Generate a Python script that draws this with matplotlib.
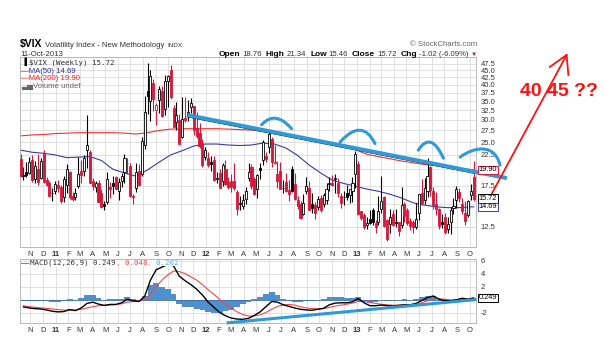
import matplotlib
matplotlib.use("Agg")
import matplotlib.pyplot as plt
import numpy as np
import pandas as pd
from matplotlib.patches import PathPatch
from matplotlib.path import Path
from matplotlib.ticker import NullLocator
from matplotlib.transforms import IdentityTransform

plt.rcParams["font.family"] = ["Liberation Sans", "DejaVu Sans"]

W, H = 606, 351

# weekly candles, Friday 2010-10-08 .. 2013-10-11
START = "2010-10-08"
PREV_CLOSE = 22.50
OPEN = [21.8, 18.9, 19.5, 19.4, 21.5, 18.5, 20.0, 18.6, 22.8, 18.3,
        17.8, 16.5, 16.8, 17.6, 17.3, 15.9, 17.6, 19.5, 16.1, 15.9,
        17.4, 19.8, 19.8, 23.5, 23.0, 18.2, 17.3, 17.9, 16.5, 15.0,
        15.3, 17.3, 17.9, 18.7, 16.8, 18.1, 19.6, 21.0, 20.6, 16.0,
        17.1, 19.7, 19.3, 24.4, 38.0, 35.0, 40.6, 32.5, 35.3, 38.1,
        32.8, 41.1, 45.2, 33.0, 29.5, 30.0, 26.0, 30.5, 31.2, 33.2,
        33.5, 28.0, 27.0, 24.9, 22.1, 22.0, 21.2, 21.5, 18.5, 19.4,
        18.2, 20.0, 18.0, 18.2, 18.1, 16.6, 15.2, 14.8, 15.7, 18.6,
        20.4, 18.4, 17.0, 20.2, 21.5, 22.3, 24.0, 25.6, 21.1, 19.3,
        19.7, 17.2, 18.0, 16.9, 20.0, 17.7, 15.6, 15.0, 13.9, 16.8,
        17.2, 15.1, 14.9, 14.7, 15.8, 15.1, 15.6, 17.7, 17.9, 18.4,
        17.8, 16.1, 15.9, 16.5, 16.2, 16.8, 19.2, 20.9, 14.2, 13.7,
        12.7, 13.3, 14.3, 12.9, 13.0, 14.4, 15.9, 13.2, 12.8, 13.9,
        13.0, 13.0, 12.7, 15.0, 14.3, 13.1, 13.0, 12.5, 14.0, 16.5,
        15.6, 16.8, 20.3, 16.7, 15.0, 14.4, 13.0, 13.5, 12.3, 13.0,
        14.6, 15.5, 16.6, 15.0, 14.0, 13.7, 16.2, 18.76]
HIGH = [22.6, 20.4, 21.3, 22.2, 22.5, 21.4, 22.6, 22.0, 23.5, 18.7,
        18.2, 17.1, 18.2, 18.3, 17.6, 19.0, 20.9, 19.8, 16.6, 17.2,
        22.1, 21.5, 22.4, 31.3, 23.4, 18.6, 18.2, 18.3, 17.0, 15.4,
        19.5, 18.0, 18.9, 19.0, 18.6, 19.4, 22.7, 21.9, 21.0, 16.3,
        21.0, 20.9, 26.0, 36.6, 48.0, 45.0, 41.9, 34.4, 39.6, 39.6,
        43.5, 43.2, 46.9, 33.8, 34.8, 31.4, 36.2, 36.2, 35.3, 36.0,
        33.6, 31.9, 29.2, 25.6, 24.0, 23.1, 22.3, 22.3, 19.6, 20.0,
        21.0, 21.5, 18.7, 19.3, 21.1, 16.9, 16.0, 16.3, 17.3, 21.1,
        20.8, 18.7, 19.3, 21.0, 25.4, 23.0, 27.7, 26.1, 24.5, 21.4,
        21.3, 18.3, 19.4, 18.3, 20.5, 19.4, 16.0, 15.4, 16.3, 18.7,
        18.1, 16.5, 15.3, 16.1, 16.2, 16.5, 17.9, 18.7, 19.1, 19.2,
        18.6, 16.4, 16.7, 17.6, 17.0, 18.8, 23.2, 21.4, 14.2, 14.0,
        13.5, 14.3, 14.6, 13.2, 16.1, 19.0, 16.1, 13.3, 14.4, 14.3,
        14.4, 13.0, 17.3, 15.3, 14.5, 13.4, 13.2, 15.2, 16.3, 18.5,
        18.6, 21.9, 20.5, 17.3, 16.6, 14.5, 13.9, 14.0, 13.5, 14.7,
        15.8, 17.4, 17.2, 15.8, 15.4, 15.6, 17.7, 21.34]
LOW = [18.8, 18.3, 18.8, 19.3, 18.0, 17.9, 17.6, 18.4, 17.9, 17.4,
       15.9, 15.4, 16.3, 16.6, 15.2, 15.3, 16.4, 15.7, 15.4, 15.5,
       17.2, 17.9, 19.0, 20.2, 17.8, 16.9, 16.6, 15.3, 14.6, 14.3,
       15.0, 15.8, 16.3, 17.0, 15.5, 17.3, 17.9, 19.2, 15.9, 15.0,
       16.6, 17.4, 19.0, 23.7, 31.5, 29.8, 32.2, 28.7, 31.8, 30.8,
       31.2, 33.3, 35.7, 28.2, 27.5, 24.5, 25.9, 29.5, 29.7, 31.8,
       26.5, 25.8, 23.8, 20.3, 21.5, 20.4, 19.8, 18.2, 17.8, 17.1,
       17.5, 17.6, 17.0, 16.6, 16.9, 13.7, 14.3, 14.4, 15.0, 18.2,
       17.0, 16.2, 15.8, 18.5, 20.7, 21.2, 22.9, 20.4, 20.8, 17.2,
       17.0, 16.4, 16.6, 15.4, 16.6, 15.5, 14.4, 13.3, 13.8, 16.3,
       14.3, 14.0, 13.3, 14.3, 14.1, 14.7, 15.0, 16.8, 17.4, 16.5,
       15.9, 14.5, 14.9, 15.5, 15.2, 15.3, 17.2, 13.7, 13.2, 12.3,
       12.3, 12.8, 12.7, 11.9, 12.7, 14.0, 12.5, 11.1, 11.9, 12.6,
       12.5, 11.6, 12.4, 13.0, 12.7, 12.2, 11.9, 12.3, 13.2, 14.9,
       15.1, 15.9, 16.1, 14.4, 13.8, 12.3, 12.4, 11.8, 11.9, 11.8,
       13.9, 14.6, 15.3, 13.9, 12.7, 13.5, 15.5, 15.46]
CLOSE = [18.96, 19.03, 19.08, 21.20, 18.26, 20.61, 18.04, 21.36, 18.01, 17.61,
         16.11, 16.47, 17.75, 17.14, 15.46, 18.47, 20.04, 15.93, 15.69, 16.43,
         19.22, 19.06, 21.88, 24.44, 17.91, 17.40, 17.87, 15.32, 14.69, 14.75,
         18.40, 17.07, 17.43, 17.07, 17.95, 18.86, 21.85, 21.10, 16.00, 15.95,
         19.53, 17.52, 25.25, 32.00, 36.36, 43.05, 35.59, 33.92, 38.52, 30.98,
         41.25, 42.96, 36.20, 28.24, 31.32, 24.53, 30.16, 30.04, 32.00, 34.47,
         27.52, 26.38, 24.29, 20.73, 23.40, 20.63, 20.91, 18.28, 18.53, 17.10,
         20.79, 17.78, 17.31, 17.29, 17.11, 14.47, 15.00, 15.50, 16.70, 19.55,
         17.44, 16.32, 19.16, 19.89, 25.10, 21.76, 26.66, 21.23, 21.11, 18.11,
         17.08, 17.10, 16.74, 16.27, 16.70, 15.64, 14.74, 13.45, 15.18, 17.47,
         14.38, 14.51, 13.98, 15.73, 14.33, 16.14, 17.06, 17.81, 17.59, 18.61,
         16.41, 15.14, 15.87, 15.90, 17.00, 17.84, 22.72, 13.83, 13.36, 12.46,
         12.89, 12.90, 13.02, 12.46, 14.17, 15.36, 12.59, 11.30, 13.57, 12.70,
         12.85, 12.06, 14.97, 13.61, 12.85, 12.59, 12.45, 13.32, 16.30, 15.14,
         17.15, 18.90, 16.86, 14.89, 14.42, 12.54, 12.72, 11.98, 12.81, 14.37,
         14.76, 17.01, 15.85, 14.16, 13.12, 15.46, 16.74, 15.72]

# moving averages read every 4 weeks
MA_WEEKS = list(range(0, 157, 4)) + [157]
MA50 = [23.4, 23.0, 22.8, 22.5, 22.0, 22.1, 22.2, 21.5, 20.0, 19.4,
        18.9, 19.9, 21.2, 22.5, 23.3, 24.2, 24.6, 24.6, 24.4, 24.3,
        24.4, 24.8, 24.6, 23.8, 22.4, 20.7, 19.4, 18.3, 17.8, 17.4,
        17.0, 16.7, 16.3, 15.8, 15.2, 14.9, 14.7, 14.6, 14.6, 14.7, 14.69]
MA200 = [26.3, 26.5, 26.6, 26.8, 26.9, 27.0, 27.0, 27.0, 27.0, 26.9,
         26.7, 27.0, 27.5, 27.8, 27.9, 27.9, 27.9, 27.9, 27.8, 27.7,
         27.6, 27.3, 27.0, 26.6, 26.0, 25.6, 25.2, 24.8, 24.1, 23.5,
         22.6, 22.2, 21.8, 21.4, 21.1, 20.8, 20.6, 20.3, 20.1, 19.95, 19.90]

# MACD(12,26,9) read every 2 weeks
MACD_WEEKS = list(range(1, 156, 2)) + [157]
MACD = [-1.13, -1.3, -1.4, -1.45, -1.6, -1.8, -1.9, -1.85, -1.55, -1.7,
        -1.3, -0.6, -0.4, -0.7, -0.9, -0.75, -0.75, -0.5, 0.05, -0.2,
        -0.3, 0.5, 3.0, 4.6, 5.0, 5.4, 5.2, 3.6, 2.9, 2.3,
        1.6, 0.7, -0.4, -1.2, -2.0, -2.5, -2.85, -3.0, -3.05, -2.9,
        -2.45, -1.9, -1.1, -0.3, -0.4, -0.8, -1.05, -1.3, -1.5, -1.6,
        -1.65, -1.5, -1.35, -0.8, -0.55, -0.5, -0.5, -0.35, 0.15, -0.5,
        -0.95, -0.95, -0.85, -0.95, -1.0, -0.9, -0.8, -0.8, -0.6, -0.15,
        0.3, 0.55, 0.05, -0.15, -0.2, -0.05, 0.2, 0.05, 0.249]
SIGNAL = [-0.97, -1.1, -1.2, -1.28, -1.35, -1.45, -1.55, -1.62, -1.64, -1.6,
          -1.5, -1.3, -1.1, -0.95, -0.9, -0.85, -0.78, -0.65, -0.4, -0.3,
          -0.2, -0.05, 0.8, 2.0, 3.0, 3.8, 4.4, 4.3, 4.0, 3.5,
          3.0, 2.3, 1.5, 0.8, 0.0, -0.7, -1.3, -1.9, -2.3, -2.55,
          -2.5, -2.35, -2.0, -1.5, -1.05, -0.85, -0.75, -0.85, -1.1, -1.3,
          -1.38, -1.42, -1.4, -1.2, -1.0, -0.87, -0.72, -0.55, -0.3, -0.3,
          -0.45, -0.6, -0.72, -0.8, -0.87, -0.87, -0.82, -0.78, -0.72, -0.5,
          -0.2, 0.05, 0.1, 0.05, -0.05, -0.1, 0.0, 0.03, 0.048]
HIST = [-0.2, -0.2, -0.2, -0.2, -0.25, -0.35, -0.35, -0.25, 0.1, -0.1,
        0.2, 0.7, 0.7, 0.25, 0.0, 0.1, 0.05, 0.15, 0.45, 0.1,
        -0.1, 0.55, 2.2, 2.6, 2.0, 1.6, 0.8, -0.7, -1.1, -1.2,
        -1.4, -1.6, -1.9, -2.0, -2.0, -1.8, -1.55, -1.1, -0.75, -0.35,
        0.05, 0.45, 0.9, 1.2, 0.65, 0.05, -0.3, -0.45, -0.4, -0.3,
        -0.27, -0.08, 0.05, 0.4, 0.45, 0.37, 0.22, 0.2, 0.45, -0.2,
        -0.5, -0.35, -0.13, -0.15, -0.13, -0.03, 0.02, -0.02, 0.12, 0.35,
        0.5, 0.5, -0.05, -0.2, -0.15, 0.05, 0.2, 0.02, 0.202]

PRICE_TICKS = [12.5, 15.0, 17.5, 20.0, 22.5, 25.0, 27.5, 30.0, 32.5, 35.0,
               37.5, 40.0, 42.5, 45.0, 47.5]
HIDDEN_PRICE_TICKS = [15.0, 20.0]
MACD_TICKS = [-2, 0, 2, 4, 6]

# hand-drawn markup, in (week, price) / (week, macd) units
TREND_WEEKS = [57.8, 168.5]
TREND_PRICES = [31.2, 18.6]
TREND_BLACK_WEEKS = [57.8, 157.0]
TREND_BLACK_PRICES = [30.8, 19.4]
ARCS = [
    ([83.5, 88.2, 93.9], [28.8, 32.6, 27.9]),
    ([110.7, 118.3, 122.8], [25.0, 30.6, 24.7]),
    ([137.8, 142.2, 146.5], [23.4, 27.5, 21.9]),
    ([152.3, 157.5, 164.4, 166.1], [22.1, 24.2, 24.6, 20.7]),
]
ARROW_WEEKS = [161.5, 189.2]
ARROW_PRICES = [15.14, 51.1]
ARROW_HEAD_WEEKS = [183.4, 189.2, 189.8]
ARROW_HEAD_PRICES = [46.3, 51.1, 43.3]
GUESS_TEXT = "40 45 ??"
GUESS_AT = (186.6, 38.0)
MACD_TREND_WEEKS = [71.4, 158.0]
MACD_TREND_VALUES = [-3.6, 0.0]

RED = "#d5173c"
MARK_BLUE = "#2f9ad6"
GRID = "#dcdcdc"
TXT = "#333333"
FS = 5.5

fig = plt.figure(figsize=(W / 100, H / 100), dpi=100)
ax = fig.add_axes([20 / W, 1 - 246.7 / H, 456 / W, 189.4 / H])
mx = fig.add_axes([20 / W, 1 - 323.3 / H, 456 / W, 64.3 / H])
PX = IdentityTransform()


def put(x, y, s, **kw):
    return fig.text(x, H - y, s, transform=PX, **kw)


def row(x, y, parts, ha="left"):
    r = fig.canvas.get_renderer()
    arts, widths = [], []
    for s, gap, kw in parts:
        t = put(0, y, s, va="baseline", **kw)
        arts.append(t)
        widths.append(t.get_window_extent(r).width + gap)
    cur = x - sum(widths) if ha == "right" else x
    for t, w in zip(arts, widths):
        t.set_x(cur)
        cur += w


# ---- candles ----
o, h, l, c = (np.array(v) for v in (OPEN, HIGH, LOW, CLOSE))
wk = np.arange(len(c))
prev = np.r_[PREV_CLOSE, c[:-1]]
col = np.where(c < prev, RED, "black")
face = np.where(c >= o, "white", col)
ax.vlines(wk, l, h, colors=col, lw=0.8, zorder=3)
ax.bar(wk, np.maximum(np.abs(c - o), 0.05), bottom=np.minimum(o, c), width=0.72,
       color=face, edgecolor=col, linewidth=0.6, zorder=4)
ax.plot(MA_WEEKS, MA200, color="#ee3333", lw=0.8, zorder=2)
ax.plot(MA_WEEKS, MA50, color="#3a3aa8", lw=0.8, zorder=2)

ax.set_yscale("log")
ax.set_ylim(10.6, 50.1)
ax.set_xlim(-0.2, 157.8)
ax.yaxis.set_minor_locator(NullLocator())
ax.set_yticks(PRICE_TICKS)
ax.set_yticklabels(["" if v in HIDDEN_PRICE_TICKS else f"{v:.1f}" for v in PRICE_TICKS])

# ---- markup on price panel ----
ax.plot(TREND_BLACK_WEEKS, TREND_BLACK_PRICES, color="black", lw=1.0, zorder=5)
ax.plot(TREND_WEEKS, TREND_PRICES, color=MARK_BLUE, lw=2.9, zorder=6,
        clip_on=False, solid_capstyle="butt")
for ws, ps in ARCS:
    code = Path.CURVE3 if len(ws) == 3 else Path.CURVE4
    path = Path(np.column_stack([ws, ps]), [Path.MOVETO] + [code] * (len(ws) - 1))
    ax.add_patch(PathPatch(path, fill=False, ec=MARK_BLUE, lw=2.2,
                           clip_on=False, zorder=6, capstyle="round"))
ax.plot(ARROW_WEEKS, ARROW_PRICES, color="#ff1111", lw=1.3, clip_on=False, zorder=7)
ax.plot(ARROW_HEAD_WEEKS, ARROW_HEAD_PRICES, color="#ff1111", lw=1.3,
        clip_on=False, zorder=7)
ax.text(*GUESS_AT, GUESS_TEXT, color="#ff1111", fontsize=14, fontweight="bold",
        ha="center", va="center", clip_on=False, zorder=7)

# ---- MACD panel ----
mx.bar(MACD_WEEKS, HIST, width=2.0, color="#4f8fcb", linewidth=0, zorder=2)
mx.axhline(0, color="#3b6fb0", lw=0.6, zorder=2)
mx.plot(MACD_WEEKS, SIGNAL, color="#f04848", lw=0.8, zorder=3)
mx.plot(MACD_WEEKS, MACD, color="black", lw=1.0, zorder=4)
mx.plot(MACD_TREND_WEEKS, MACD_TREND_VALUES, color=MARK_BLUE, lw=2.2,
        clip_on=False, zorder=6, solid_capstyle="butt")
mx.set_xlim(-0.2, 157.8)
mx.set_ylim(-3.66, 6.25)
mx.set_yticks(MACD_TICKS)
mx.set_yticklabels(["" if v == 0 else str(v) for v in MACD_TICKS])

# ---- shared axis styling ----
months = pd.date_range("2010-11-01", "2013-10-01", freq="MS")
mpos = (months - pd.Timestamp(START)).days / 7
mlab = [f"{m.year % 100}" if m.month == 1 else m.strftime("%b")[0] for m in months]
for a in (ax, mx):
    a.set_xticks(mpos)
    a.set_xticklabels(mlab)
    for t, m in zip(a.get_xticklabels(), months):
        if m.month == 1:
            t.set_fontweight("bold")
            t.set_fontsize(6.5)
    a.yaxis.tick_right()
    a.tick_params(axis="both", length=0, labelsize=FS, labelcolor=TXT)
    a.tick_params(axis="x", pad=3)
    a.tick_params(axis="y", pad=3.5)
    a.grid(True, color=GRID, lw=0.6)
    a.set_axisbelow(True)
    for s in a.spines.values():
        s.set_color("#b0b0b0")
        s.set_linewidth(0.6)

# ---- value tags at right edge ----
tags = [(ax, MA200[-1], RED), (ax, CLOSE[-1], "black"),
        (ax, MA50[-1], "#3a3aa8"), (mx, MACD[-1], "black")]
for a, v, ec in tags:
    label = f"{v:.3f}" if a is mx else f"{v:.2f}"
    a.text(1.006, v, label, transform=a.get_yaxis_transform(), fontsize=5.3,
           ha="left", va="center", color="black", zorder=8, clip_on=False,
           bbox=dict(boxstyle="square,pad=0.12", fc="white", ec=ec, lw=0.7))

# ---- header ----
row(20, 47, [("$VIX", 3, dict(fontsize=7.5, fontweight="bold")),
             ("Volatility Index - New Methodology", 3, dict(fontsize=5.6, color=TXT)),
             ("INDX", 0, dict(fontsize=4.6, color=TXT))])
put(20, 55.5, "11-Oct-2013", fontsize=5.6, color=TXT, va="baseline")
put(477, 46.5, "\u00a9 StockCharts.com", fontsize=5.6, color="#666666",
    ha="right", va="baseline")
chg = CLOSE[-1] - CLOSE[-2]
pct = chg / CLOSE[-2] * 100
b = dict(fontsize=6, fontweight="bold", color="black")
n = dict(fontsize=5.6, color=TXT)
row(477, 55.5, [("Open", 2, b), (f"{OPEN[-1]:.2f}", 4, n),
                ("High", 2, b), (f"{HIGH[-1]:.2f}", 4, n),
                ("Low", 2, b), (f"{LOW[-1]:.2f}", 4, n),
                ("Close", 2, b), (f"{CLOSE[-1]:.2f}", 4, n),
                ("Chg", 2, b), (f"{chg:.2f} ({pct:.2f}%)", 2, n),
                ("\u25bc", 0, dict(fontsize=4.5, color="#c8102e"))], ha="right")

# ---- legends ----
put(22, 63.5, "\u2590", fontsize=5, color="black", va="baseline")
put(29, 64, f"$VIX (Weekly) {CLOSE[-1]:.2f}", fontsize=5.4, family="DejaVu Sans Mono",
    color=TXT, va="baseline")
put(21, 73, f"\u2014MA(50) {MA50[-1]:.2f}", fontsize=5.6, color="#2b2bb0", va="baseline")
put(21, 80, f"\u2014MA(200) {MA200[-1]:.2f}", fontsize=5.6, color="#ee2222", va="baseline")
put(21, 87.5, "\u2583\u2585Volume undef", fontsize=5.6, color="#666666", va="baseline")
put(21, 265, "\u2014", fontsize=6, color="black", va="baseline")
mono = dict(fontsize=5.4, family="DejaVu Sans Mono", zorder=9,
            bbox=dict(boxstyle="square,pad=0.05", fc="white", ec="none"))
row(30, 265, [(f"MACD(12,26,9) {MACD[-1]:.3f}", 0, dict(mono, color=TXT)),
              (f", {SIGNAL[-1]:.3f}", 0, dict(mono, color="#f04848")),
              (f", {HIST[-1]:.3f}", 0, dict(mono, color="#5aaae6"))])

fig.savefig("out.png", dpi=100)
